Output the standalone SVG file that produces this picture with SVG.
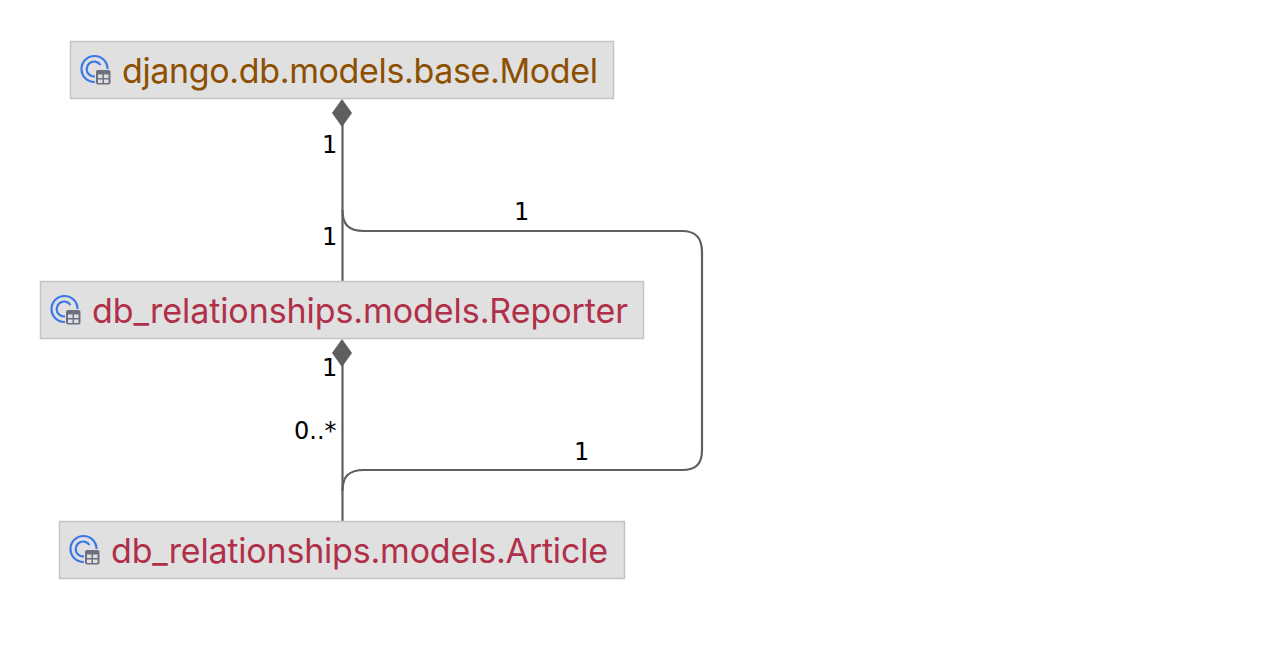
<svg xmlns="http://www.w3.org/2000/svg" width="1274" height="670" viewBox="0 0 1274 670">
<style>
.box{fill:#e0e0e0;stroke:#c4c4c4;stroke-width:1.5}
.name{font-family:"Inter","Liberation Sans",sans-serif;font-size:34px}
.m{fill:#8c5000}.r{fill:#b0304a}
.lbl{font-family:"DejaVu Sans",sans-serif;font-size:24px;fill:#000}
.edge{fill:none;stroke:#5f5f5f;stroke-width:2.2}
.dia{fill:#5f5f5f}
.ic{fill:none;stroke:#3b78e7;stroke-width:2.2}
.tb{fill:#6e7080}
.tc{fill:#e0e0e0}
</style>
<defs>
<g id="icon">
<circle cx="14.500" cy="14" r="13" class="ic"/>
<path d="M20.500 10A7.500 7.500 0 1 0 20.500 18" class="ic"/>
<rect x="15" y="14" width="17" height="17" rx="3" fill="#e0e0e0"/>
<rect x="16" y="15" width="14.500" height="14.500" rx="2" class="tb"/>
<rect x="18" y="19.500" width="4.500" height="3.500" class="tc"/>
<rect x="24" y="19.500" width="4.500" height="3.500" class="tc"/>
<rect x="18" y="24.500" width="4.500" height="3.500" class="tc"/>
<rect x="24" y="24.500" width="4.500" height="3.500" class="tc"/>
</g>
</defs>
<g id="connectors">
<path class="edge" d="M342.500 120V281"/>
<path class="edge" d="M342.500 210C342.500 224 348 231 364 231H682C696 231 702 238 702 252V450C702 464 696 470 682 470H364C348 470 342.500 477 342.500 491"/>
<path class="edge" d="M342.500 360V521"/>
<polygon class="dia" points="342,99 352,113 342,127 332,113"/>
<polygon class="dia" points="342,339 352,353 342,367 332,353"/>
<text class="lbl" x="322" y="153">1</text>
<text class="lbl" x="322" y="245">1</text>
<text class="lbl" x="514" y="220">1</text>
<text class="lbl" x="322" y="376">1</text>
<text class="lbl" x="294" y="439">0..*</text>
<text class="lbl" x="574" y="460">1</text>
</g>
<g id="node-model">
<rect class="box" x="70.500" y="41.500" width="543" height="57"/>
<use href="#icon" x="80" y="55"/>
<text class="name m" x="122" y="83" textLength="476">django.db.models.base.Model</text>
</g>
<g id="node-reporter">
<rect class="box" x="40.500" y="281.500" width="603" height="57"/>
<use href="#icon" x="50" y="295"/>
<text class="name r" x="92" y="323" textLength="536">db_relationships.models.Reporter</text>
</g>
<g id="node-article">
<rect class="box" x="59.500" y="521.500" width="565" height="57"/>
<use href="#icon" x="69" y="535"/>
<text class="name r" x="111" y="563" textLength="497">db_relationships.models.Article</text>
</g>
</svg>
